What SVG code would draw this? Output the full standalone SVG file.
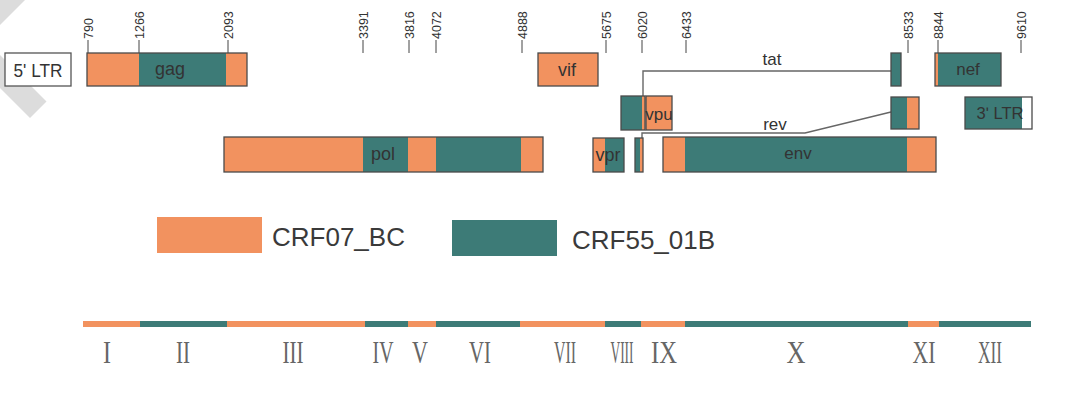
<svg xmlns="http://www.w3.org/2000/svg" width="1080" height="411" viewBox="0 0 1080 411">
<style>
.o{fill:#F2925F}
.t{fill:#3D7B77}
.box{fill:none;stroke:#4a4a4a;stroke-width:1.3}
.lbl{font-family:"Liberation Sans",Arial,sans-serif;fill:#333;text-anchor:middle}
.tk{stroke:#444;stroke-width:1}
.num{font-family:"Liberation Sans",Arial,sans-serif;font-size:12.5px;fill:#333}
.conn{fill:none;stroke:#666;stroke-width:1.4}
.leg{font-family:"Liberation Sans",Arial,sans-serif;font-size:26px;fill:#3a3a3a}
.rn{font-family:"Liberation Serif","Times New Roman",serif;font-size:32px;fill:#666;text-anchor:middle}
</style>
<rect width="1080" height="411" fill="#fff"/>
<polygon points="-48,40 20,-28 53,-28 -15,40 46.5,101.5 30,118" fill="#dcdcdc"/>

<g id="ticks">
<g class="tk">
<line x1="88" y1="40" x2="88" y2="53"/><line x1="139" y1="40" x2="139" y2="53"/><line x1="228" y1="40" x2="228" y2="53"/>
<line x1="363" y1="40" x2="363" y2="53"/><line x1="409" y1="40" x2="409" y2="53"/><line x1="436" y1="40" x2="436" y2="53"/>
<line x1="522" y1="40" x2="522" y2="53"/><line x1="606" y1="40" x2="606" y2="53"/><line x1="642" y1="40" x2="642" y2="53"/>
<line x1="686" y1="40" x2="686" y2="53"/><line x1="908" y1="40" x2="908" y2="53"/><line x1="938" y1="40" x2="938" y2="53"/>
<line x1="1021" y1="40" x2="1021" y2="53"/>
</g>
<g class="num">
<text transform="translate(88,39) rotate(-90)" y="4.5">790</text>
<text transform="translate(139,39) rotate(-90)" y="4.5">1266</text>
<text transform="translate(228,39) rotate(-90)" y="4.5">2093</text>
<text transform="translate(363,39) rotate(-90)" y="4.5">3391</text>
<text transform="translate(409,39) rotate(-90)" y="4.5">3816</text>
<text transform="translate(436,39) rotate(-90)" y="4.5">4072</text>
<text transform="translate(522,39) rotate(-90)" y="4.5">4888</text>
<text transform="translate(606,39) rotate(-90)" y="4.5">5675</text>
<text transform="translate(642,39) rotate(-90)" y="4.5">6020</text>
<text transform="translate(686,39) rotate(-90)" y="4.5">6433</text>
<text transform="translate(908,39) rotate(-90)" y="4.5">8533</text>
<text transform="translate(938,39) rotate(-90)" y="4.5">8844</text>
<text transform="translate(1021,39) rotate(-90)" y="4.5">9610</text>
</g>
</g>

<g id="connectors">
<polyline class="conn" points="643,96 643,71 891,71"/>
<polyline class="conn" points="642,138 642,133 805,133 891,112"/>
</g>

<g id="ltr5">
<rect x="5" y="53" width="66" height="33" fill="#fff" stroke="#555" stroke-width="1.3"/>
<text class="lbl" x="38" y="77" font-size="18" textLength="49" lengthAdjust="spacingAndGlyphs">5ʹ LTR</text>
</g>

<g id="gag">
<rect class="o" x="87" y="53" width="52" height="33"/>
<rect class="t" x="139" y="53" width="87" height="33"/>
<rect class="o" x="226" y="53" width="21" height="33"/>
<rect class="box" x="87" y="53" width="160" height="33"/>
<text class="lbl" x="170" y="75" font-size="18">gag</text>
</g>

<g id="vif">
<rect class="o" x="538" y="53" width="60" height="33"/>
<rect class="box" x="538" y="53" width="60" height="33"/>
<text class="lbl" x="567" y="76" font-size="18">vif</text>
</g>

<g id="tat">
<rect class="t" x="891" y="53" width="10" height="33"/>
<rect class="box" x="891" y="53" width="10" height="33"/>
<text class="lbl" x="772" y="65" font-size="17">tat</text>
</g>

<g id="nef">
<rect class="o" x="935" y="53" width="3" height="33"/>
<rect class="t" x="938" y="53" width="63" height="33"/>
<rect class="box" x="935" y="53" width="66" height="33"/>
<text class="lbl" x="968" y="75" font-size="17">nef</text>
</g>

<g id="vpu">
<rect class="t" x="621" y="96" width="21" height="34"/>
<rect class="o" x="642" y="96" width="3" height="34"/>
<rect class="box" x="621" y="96" width="24" height="34"/>
<rect class="o" x="646" y="96" width="26" height="34"/>
<rect class="box" x="646" y="96" width="26" height="34"/>
<text class="lbl" x="659" y="120" font-size="17">vpu</text>
</g>

<g id="rev">
<rect class="t" x="891" y="97" width="16" height="32"/>
<rect class="o" x="907" y="97" width="12" height="32"/>
<rect class="box" x="891" y="97" width="28" height="32"/>
<rect class="t" x="635" y="138" width="5" height="34"/>
<rect class="o" x="640" y="138" width="3" height="34"/>
<rect class="box" x="635" y="138" width="8" height="34"/>
<text class="lbl" x="775" y="130" font-size="17">rev</text>
</g>

<g id="ltr3">
<rect class="t" x="965" y="97" width="57" height="32"/>
<rect x="1022" y="97" width="10" height="32" fill="#fff"/>
<rect class="box" x="965" y="97" width="67" height="32"/>
<text class="lbl" x="1000" y="119" font-size="17" textLength="47" lengthAdjust="spacingAndGlyphs">3ʹ LTR</text>
</g>

<g id="pol">
<rect class="o" x="224" y="137" width="139" height="35"/>
<rect class="t" x="363" y="137" width="45" height="35"/>
<rect class="o" x="408" y="137" width="28" height="35"/>
<rect class="t" x="436" y="137" width="85" height="35"/>
<rect class="o" x="521" y="137" width="22" height="35"/>
<rect class="box" x="224" y="137" width="319" height="35"/>
<text class="lbl" x="383" y="160" font-size="18">pol</text>
</g>

<g id="vpr">
<rect class="o" x="593" y="138" width="12" height="34"/>
<rect class="t" x="605" y="138" width="19" height="34"/>
<rect class="box" x="593" y="138" width="31" height="34"/>
<text class="lbl" x="608" y="161" font-size="18">vpr</text>
</g>

<g id="env">
<rect class="o" x="663" y="137" width="22" height="35"/>
<rect class="t" x="685" y="137" width="222" height="35"/>
<rect class="o" x="907" y="137" width="29" height="35"/>
<rect class="box" x="663" y="137" width="273" height="35"/>
<text class="lbl" x="798" y="159" font-size="17">env</text>
</g>

<g id="legend">
<rect class="o" x="157" y="217" width="105" height="36"/>
<text class="leg" x="272" y="246">CRF07_BC</text>
<rect class="t" x="452" y="220" width="105" height="36"/>
<text class="leg" x="572" y="249">CRF55_01B</text>
</g>

<g id="breakpoint-bar">
<rect class="o" x="83" y="321" width="57" height="6"/>
<rect class="t" x="140" y="321" width="87" height="6"/>
<rect class="o" x="227" y="321" width="138" height="6"/>
<rect class="t" x="365" y="321" width="43" height="6"/>
<rect class="o" x="408" y="321" width="28" height="6"/>
<rect class="t" x="436" y="321" width="84" height="6"/>
<rect class="o" x="520" y="321" width="85" height="6"/>
<rect class="t" x="605" y="321" width="36" height="6"/>
<rect class="o" x="641" y="321" width="44" height="6"/>
<rect class="t" x="685" y="321" width="223" height="6"/>
<rect class="o" x="908" y="321" width="31" height="6"/>
<rect class="t" x="939" y="321" width="92" height="6"/>
</g>

<g id="regions">
<text class="rn" transform="translate(107,363) scale(0.75,1)">I</text>
<text class="rn" transform="translate(183,363) scale(0.66,1)">II</text>
<text class="rn" transform="translate(293,363) scale(0.66,1)">III</text>
<text class="rn" transform="translate(383,363) scale(0.62,1)">IV</text>
<text class="rn" transform="translate(420,363) scale(0.69,1)">V</text>
<text class="rn" transform="translate(480,363) scale(0.65,1)">VI</text>
<text class="rn" transform="translate(565,363) scale(0.5,1)">VII</text>
<text class="rn" transform="translate(622,363) scale(0.42,1)">VIII</text>
<text class="rn" transform="translate(664,363) scale(0.77,1)">IX</text>
<text class="rn" transform="translate(796,363) scale(0.82,1)">X</text>
<text class="rn" transform="translate(924,363) scale(0.68,1)">XI</text>
<text class="rn" transform="translate(990,363) scale(0.54,1)">XII</text>
</g>
</svg>
